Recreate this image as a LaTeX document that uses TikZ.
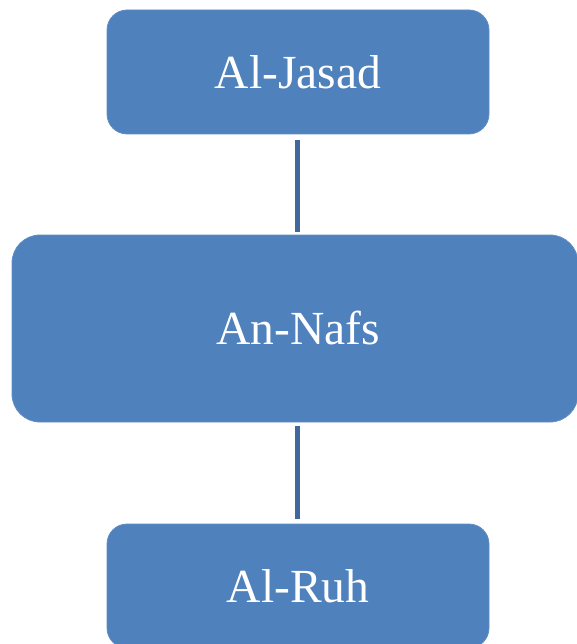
\documentclass[tikz,border=0pt]{standalone}
\usepackage{fontspec}
\setmainfont{Liberation Serif}
\definecolor{boxblue}{HTML}{4F81BD}
\definecolor{linkblue}{HTML}{41689C}
\begin{document}
\begin{tikzpicture}[x=1pt,y=-1pt,
  box/.style={fill=boxblue,draw=boxblue!90!white,line width=0.8pt,text=white,inner sep=0pt,
    font=\fontsize{47.5}{57}\selectfont},
  link/.style={draw=linkblue,line width=5pt}]
\useasboundingbox (0,0) rectangle (576,644);
\node[box,minimum width=382pt,minimum height=124pt,rounded corners=20pt] (top) at (298,72) {Al-Jasad};
\node[box,minimum width=566pt,minimum height=187pt,rounded corners=28pt] (mid) at (295,328.5) {\hspace*{6pt}An-Nafs};
\node[box,minimum width=382pt,minimum height=124pt,rounded corners=20pt] (bot) at (298,586) {Al-Ruh};
\draw[link,shorten <=6pt,shorten >=3pt] (top.south) ++(-0.5,0) coordinate (a1) -- (a1 |- mid.north);
\draw[link,shorten <=4pt,shorten >=5pt] (bot.north) ++(-0.5,0) coordinate (b1) (b1 |- mid.south) -- (b1);
\end{tikzpicture}
\end{document}
